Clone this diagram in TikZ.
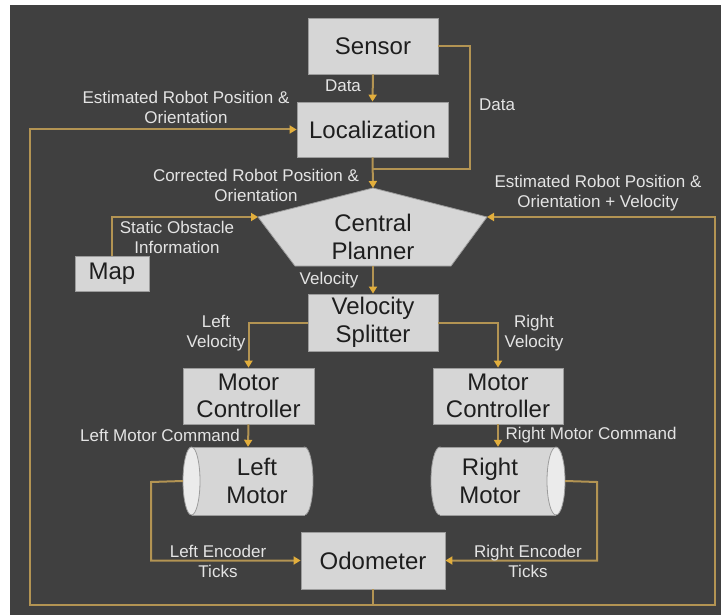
\documentclass[tikz,border=0pt]{standalone}
\usepackage{fontspec}
\setmainfont{Liberation Sans}
\usetikzlibrary{arrows.meta}

\definecolor{bgc}{HTML}{404040}
\definecolor{boxc}{HTML}{D6D6D6}
\definecolor{edgec}{HTML}{9C9C9C}
\definecolor{endc}{HTML}{EBEBEB}
\definecolor{wirec}{HTML}{B39453}
\definecolor{tipc}{HTML}{E2AE3C}
\definecolor{lblc}{HTML}{E4E4E4}
\definecolor{inkc}{HTML}{1E1E1E}

\begin{document}
\begin{tikzpicture}[x=1pt,y=-1pt,
  block/.style={draw=edgec, fill=boxc, line width=0.8pt, text=inkc, align=center,
    inner sep=0pt, font=\fontsize{24}{27.5}\selectfont},
  motortext/.style={text=inkc, align=center, inner sep=0pt, font=\fontsize{24}{27.5}\selectfont},
  shapeonly/.style={draw=none, inner sep=0pt},
  lbl/.style={text=lblc, align=center, inner sep=0pt, font=\fontsize{17}{20}\selectfont},
  wire/.style={draw=wirec, line width=2pt},
  flow/.style={wire, -{Triangle[width=8pt,length=7pt,color=tipc]}}]

% page and background
\useasboundingbox (0,0) rectangle (721,615);
\fill[white] (0,0) rectangle (721,615);
\fill[bgc] (10,5) rectangle (721,615);

% rectangular blocks
\node[block, minimum width=130pt, minimum height=56pt] (sensor) at (373,46) {Sensor};
\node[block, minimum width=151pt, minimum height=55pt] (loc) at (372.5,129.5) {Localization};
\node[block, minimum width=74pt, minimum height=35pt] (map) at (112,273.5) {Map};
\node[block, minimum width=130pt, minimum height=57pt] (split) at (373,322.5) {Velocity\\Splitter};
\node[block, minimum width=131pt, minimum height=56pt] (lmc) at (248.5,396) {Motor\\Controller};
\node[block, minimum width=130pt, minimum height=56pt] (rmc) at (498,396) {Motor\\Controller};
\node[block, minimum width=144pt, minimum height=57pt] (odo) at (373,560.5) {Odometer};

% central planner (pentagon)
\coordinate (pl-t) at (373,188);
\coordinate (pl-l) at (258,217);
\coordinate (pl-r) at (487,217);
\coordinate (pl-br) at (451,266);
\coordinate (pl-bl) at (295,266);
\coordinate (pl-b) at (373,266);
\filldraw[draw=edgec, fill=boxc, line width=0.8pt] (pl-t) -- (pl-r) -- (pl-br) -- (pl-bl) -- (pl-l) -- cycle;
\node[motortext] (planner) at (373,237) {Central\\Planner};

% left motor (cylinder, end face on the left)
\node[shapeonly, minimum width=130pt, minimum height=68pt] (lmotor) at (248,481) {};
\filldraw[draw=edgec, fill=boxc, line width=0.8pt] (304.5,481) ellipse [x radius=8.5pt, y radius=34pt];
\fill[boxc] (191.5,447) rectangle (304.5,515);
\draw[edgec, line width=0.8pt] (191.5,447) -- (304.5,447) (191.5,515) -- (304.5,515);
\filldraw[draw=edgec, fill=endc, line width=0.8pt] (191.5,481) ellipse [x radius=8.5pt, y radius=34pt];
\node[motortext] (lmotortext) at (257,481) {Left\\Motor};

% right motor (cylinder, end face on the right)
\node[shapeonly, minimum width=134pt, minimum height=68pt] (rmotor) at (498,481) {};
\filldraw[draw=edgec, fill=boxc, line width=0.8pt] (440,481) ellipse [x radius=9pt, y radius=34pt];
\fill[boxc] (440,447) rectangle (556,515);
\draw[edgec, line width=0.8pt] (440,447) -- (556,447) (440,515) -- (556,515);
\filldraw[draw=edgec, fill=endc, line width=0.8pt] (556,481) ellipse [x radius=9pt, y radius=34pt];
\node[motortext] (rmotortext) at (490,481) {Right\\Motor};

% helper corners
\coordinate (datacorner) at (470,169);
\coordinate (merge) at (373,169);
\coordinate (fbL) at (30,605);
\coordinate (fbR) at (715,605);
\coordinate (encL) at (151,482);
\coordinate (encR) at (597,482);

% connectors
\draw[flow] (sensor.south) -- (loc.north);
\draw[wire] (sensor.east) -| (datacorner) -- (merge);
\draw[flow] (loc.south) -- (pl-t);
\draw[flow] (map.north) |- (pl-l);
\draw[flow] (pl-b) -- (split.north);
\draw[flow] (split.west) -| (lmc.north);
\draw[flow] (split.east) -| (rmc.north);
\draw[flow] (lmc.south) -- (lmotor.north);
\draw[flow] (rmc.south) -- (rmotor.north);
\draw[flow] (lmotor.west) -- (encL) |- (odo.west);
\draw[flow] (rmotor.east) -- (encR) |- (odo.east);
\draw[flow] (odo.south) |- (fbL) |- (loc.west);
\draw[flow] (odo.south) |- (fbR) |- (pl-r);

% connector labels
\node[lbl] (dataL) at (343,86) {Data};
\node[lbl] (dataR) at (497,105) {Data};
\node[lbl] (estL) at (186,107) {Estimated Robot Position \&\\Orientation};
\node[lbl] (corr) at (256,185) {Corrected Robot Position \&\\Orientation};
\node[lbl] (estR) at (598,193) {Estimated Robot Position \&\\Orientation + Velocity};
\node[lbl] (static) at (177,237) {Static Obstacle\\Information};
\node[lbl] (vel) at (329,280) {Velocity};
\node[lbl] (lvel) at (216,333) {Left\\Velocity};
\node[lbl] (rvel) at (534,333) {Right\\Velocity};
\node[lbl] (lmcmd) at (160,435) {Left Motor Command};
\node[lbl] (rmcmd) at (591,435) {Right Motor Command};
\node[lbl] (lenc) at (218,561) {Left Encoder\\Ticks};
\node[lbl] (renc) at (528,561) {Right Encoder\\Ticks};
\end{tikzpicture}
\end{document}
